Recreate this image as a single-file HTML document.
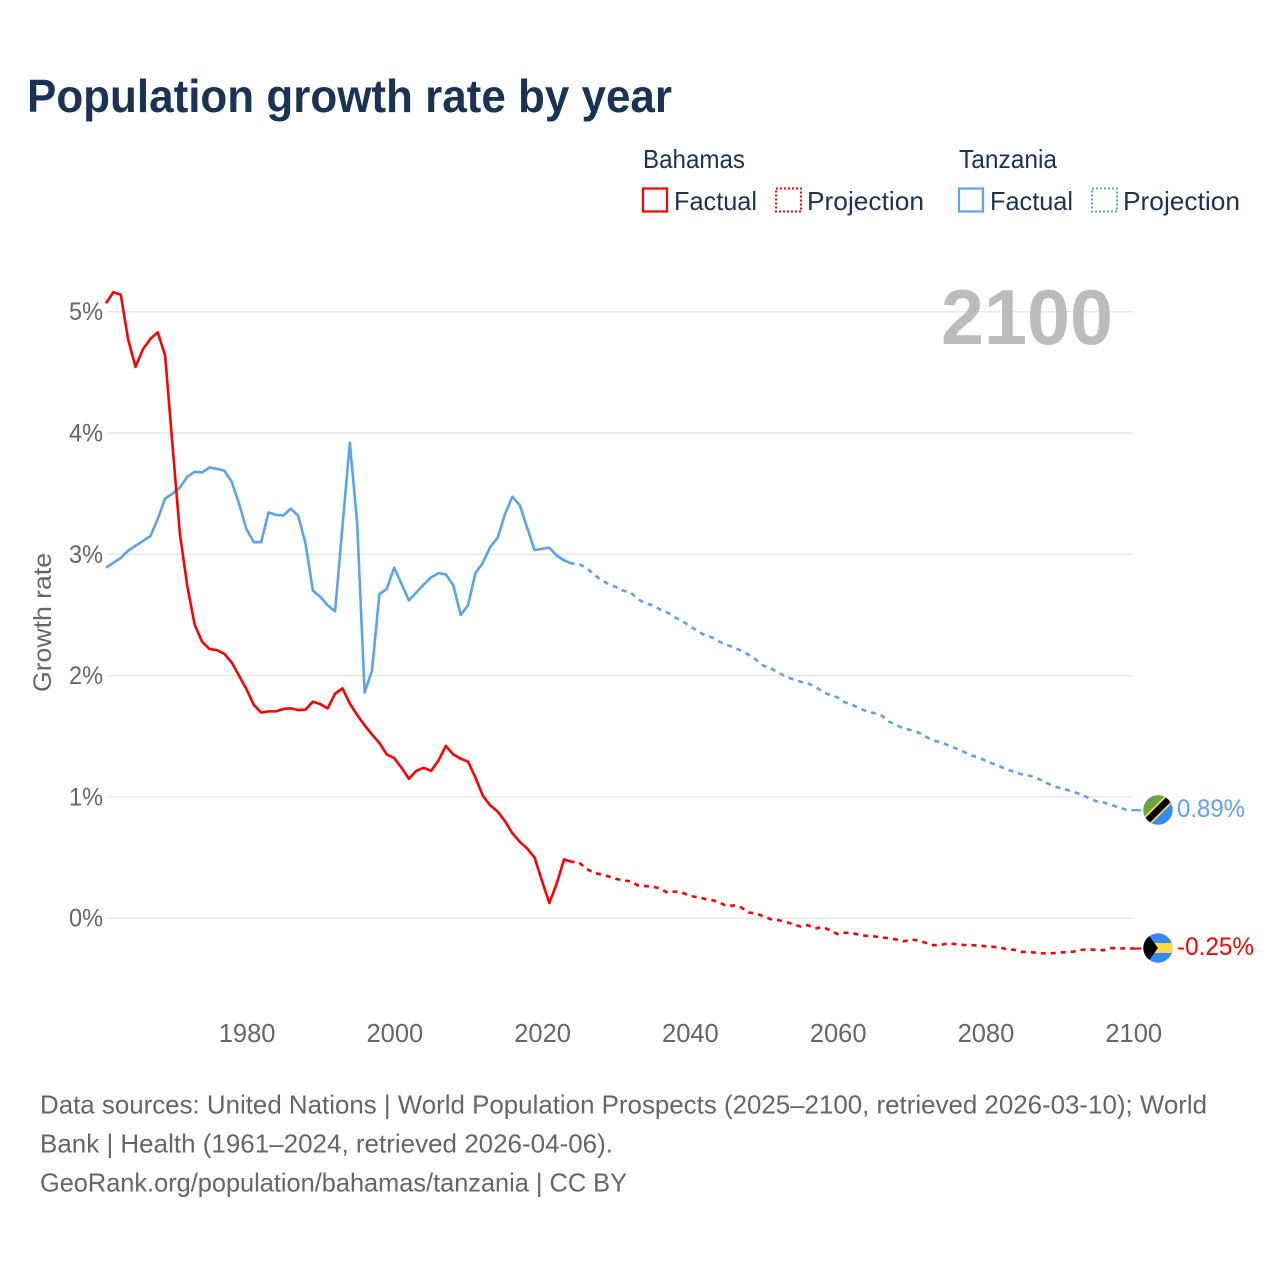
<!DOCTYPE html>
<html lang="en">
<head>
<meta charset="utf-8">
<title>Population growth rate by year</title>
<style>
html,body{margin:0;padding:0;background:#fff;}
svg{display:block;font-family:"Liberation Sans",sans-serif;}
</style>
</head>
<body>
<svg id="chart" width="1280" height="1280" viewBox="0 0 1280 1280" xmlns="http://www.w3.org/2000/svg">
  <defs>
    <clipPath id="clip-tz"><circle cx="1158" cy="810" r="14.7"/></clipPath>
    <clipPath id="clip-bs"><circle cx="1158" cy="948" r="14.7"/></clipPath>
  </defs>
  <rect width="1280" height="1280" fill="#fff"/>
  <text x="27" y="112" font-size="46" font-weight="700" fill="#1a3354" textLength="645" lengthAdjust="spacingAndGlyphs">Population growth rate by year</text>

  <g font-size="26" fill="#1a3354">
    <text x="643" y="168" textLength="102" lengthAdjust="spacingAndGlyphs">Bahamas</text>
    <text x="959" y="168" textLength="98" lengthAdjust="spacingAndGlyphs">Tanzania</text>
    <rect x="643" y="188.5" width="24" height="23" fill="none" stroke="#ff0000" stroke-width="2.2"/>
    <text x="674" y="210" textLength="83" lengthAdjust="spacingAndGlyphs">Factual</text>
    <rect x="776" y="188.5" width="25" height="23" fill="none" stroke="#ff0000" stroke-width="2" stroke-dasharray="2 2"/>
    <text x="807" y="210" textLength="117" lengthAdjust="spacingAndGlyphs">Projection</text>
    <rect x="959" y="188.5" width="24" height="23" fill="none" stroke="#5ba3ec" stroke-width="2.2"/>
    <text x="990" y="210" textLength="83" lengthAdjust="spacingAndGlyphs">Factual</text>
    <rect x="1092" y="188.5" width="25" height="23" fill="none" stroke="#5ba3ec" stroke-width="2" stroke-dasharray="2 2"/>
    <text x="1123" y="210" textLength="117" lengthAdjust="spacingAndGlyphs">Projection</text>
  </g>

  <g id="grid"></g>
  <g id="y-ticks"></g>
  <g id="x-ticks"></g>
  <text transform="translate(51,692) rotate(-90)" font-size="25" fill="#666" textLength="139" lengthAdjust="spacingAndGlyphs">Growth rate</text>
  <text x="941" y="344" font-size="78" font-weight="700" fill="#bcbcbc" textLength="172" lengthAdjust="spacingAndGlyphs">2100</text>
  <g id="series"></g>

  <g clip-path="url(#clip-tz)">
    <rect x="1143" y="795" width="30" height="30" fill="#338af3"/>
    <polygon points="1143,795 1173,795 1143,825" fill="#6da544"/>
    <line x1="1143" y1="825" x2="1173" y2="795" stroke="#ffda44" stroke-width="10"/>
    <line x1="1143" y1="825" x2="1173" y2="795" stroke="#000" stroke-width="6.5"/>
  </g>
  <g clip-path="url(#clip-bs)">
    <rect x="1143" y="933" width="30" height="30" fill="#338af3"/>
    <rect x="1143" y="943" width="30" height="10" fill="#ffda44"/>
    <polygon points="1143,933 1147,933 1158,948 1147,963 1143,963" fill="#000"/>
  </g>
  <text x="1177" y="817" font-size="25" fill="#5ba3ec" textLength="68" lengthAdjust="spacingAndGlyphs">0.89%</text>
  <text x="1177" y="955" font-size="25" fill="#ff0000" textLength="77" lengthAdjust="spacingAndGlyphs">-0.25%</text>

  <g font-size="26" fill="#666">
    <text x="40" y="1113.5" textLength="1167" lengthAdjust="spacingAndGlyphs">Data sources: United Nations | World Population Prospects (2025–2100, retrieved 2026-03-10); World</text>
    <text x="40" y="1152.5" textLength="573" lengthAdjust="spacingAndGlyphs">Bank | Health (1961–2024, retrieved 2026-04-06).</text>
    <text x="40" y="1191.5" textLength="587" lengthAdjust="spacingAndGlyphs">GeoRank.org/population/bahamas/tanzania | CC BY</text>
  </g>
</svg>
<script>
const xTickYears = [1980, 2000, 2020, 2040, 2060, 2080, 2100];
const yTickValues = [0, 1, 2, 3, 4, 5];
const factualStartYear = 1961;
const projectionStartYear = 2024;

const bahamasFactual = [5.07,5.16,5.14,4.77,4.545,4.69,4.775,4.83,4.64,3.9,3.17,2.74,2.42,2.28,2.22,2.21,2.18,2.11,2.0,1.89,
1.76,1.695,1.705,1.705,1.725,1.73,1.715,1.72,1.785,1.765,1.73,1.85,1.895,1.77,1.675,1.59,1.515,1.445,1.35,1.32,
1.24,1.15,1.215,1.24,1.215,1.30,1.42,1.35,1.315,1.29,1.16,1.01,0.93,0.88,0.80,0.70,0.63,0.575,0.50,0.31,
0.126,0.285,0.485,0.465];

const bahamasProjection = [0.465,0.46,0.41,0.375,0.36,0.345,0.325,0.31,0.305,0.27,0.265,0.26,0.245,0.21,0.22,0.21,0.185,
0.173,0.16,0.15,0.13,0.10,0.105,0.088,0.047,0.04,0.014,-0.008,-0.016,-0.03,-0.05,-0.068,-0.058,-0.085,-0.072,-0.10,-0.13,
-0.12,-0.122,-0.138,-0.146,-0.15,-0.16,-0.165,-0.176,-0.19,-0.176,-0.184,-0.204,-0.223,-0.22,-0.206,-0.214,-0.22,-0.222,-0.225,-0.231,
-0.236,-0.242,-0.256,-0.261,-0.278,-0.278,-0.286,-0.29,-0.289,-0.283,-0.28,-0.275,-0.261,-0.258,-0.261,-0.264,-0.247,-0.247,-0.25,-0.25];

const tanzaniaFactual = [2.89,2.93,2.97,3.03,3.07,3.11,3.15,3.29,3.46,3.50,3.55,3.64,3.68,3.675,3.715,3.705,3.69,3.60,3.42,3.21,
3.10,3.10,3.345,3.325,3.32,3.375,3.32,3.09,2.70,2.65,2.58,2.53,3.225,3.92,3.25,1.86,2.04,2.67,2.715,2.89,
2.755,2.62,2.685,2.75,2.81,2.845,2.835,2.745,2.50,2.58,2.845,2.93,3.06,3.135,3.33,3.475,3.405,3.22,3.035,3.045,
3.055,2.99,2.95,2.925];

const tanzaniaProjection = [2.925,2.92,2.89,2.835,2.79,2.755,2.73,2.70,2.685,2.63,2.595,2.58,2.545,2.52,2.48,2.45,2.41,
2.37,2.335,2.315,2.28,2.255,2.23,2.205,2.17,2.13,2.08,2.06,2.025,1.99,1.97,1.95,1.935,1.91,1.865,1.84,1.82,
1.78,1.76,1.73,1.705,1.69,1.67,1.62,1.59,1.565,1.55,1.53,1.495,1.465,1.45,1.425,1.40,1.375,1.345,1.325,1.30,
1.275,1.25,1.225,1.205,1.185,1.175,1.155,1.125,1.095,1.075,1.06,1.04,1.02,0.99,0.965,0.955,0.935,0.915,0.895,0.89];

const SVGNS = 'http://www.w3.org/2000/svg';
const xScale = (year) => 106 + (year - 1961) * (1133 - 106) / 139;
const yScale = (value) => 918.2 - value * 121.3;

function make(tag, parent, attrs) {
  const el = document.createElementNS(SVGNS, tag);
  for (const k in attrs) el.setAttribute(k, attrs[k]);
  parent.appendChild(el);
  return el;
}

function linePath(values, startYear) {
  return values.map((v, i) => (i ? 'L' : 'M') + xScale(startYear + i).toFixed(2) + ' ' + yScale(v).toFixed(2)).join(' ');
}

const grid = document.getElementById('grid');
const yTicks = document.getElementById('y-ticks');
const xTicks = document.getElementById('x-ticks');
const series = document.getElementById('series');

yTickValues.forEach((v) => {
  const line = make('line', grid, {x1: 107, x2: 1133, y1: yScale(v), y2: yScale(v), stroke: '#e9e9e9', 'stroke-width': 1.5});
  
  
  const label = make('text', yTicks, {x: 103, y: yScale(v) + 8.5, 'text-anchor': 'end', 'font-size': 25, fill: '#666', textLength: 34, lengthAdjust: 'spacingAndGlyphs'});
  
  
  label.textContent = v + '%';
});

xTickYears.forEach((year) => {
  const label = make('text', xTicks, {x: xScale(year) + 0.7, y: 1042, 'text-anchor': 'middle', 'font-size': 25.5, fill: '#666'});
  
  
  label.textContent = year;
});

function drawSeries(name, color, factual, projection) {
  const solid = make('path', series, {d: linePath(factual, factualStartYear), fill: 'none', stroke: color, 'stroke-width': 2.6, 'stroke-linejoin': 'round'});
  
  
  const dashed = make('path', series, {d: linePath(projection, projectionStartYear), fill: 'none', stroke: color, 'stroke-width': 2.6, 'stroke-dasharray': '5 5', 'stroke-dashoffset': 2});
  
  
  const lastValue = projection[projection.length - 1];
  const lastX = xScale(projectionStartYear + projection.length - 1);
  const leader = make('line', series, {x1: lastX, x2: lastX + 8, y1: yScale(lastValue), y2: yScale(lastValue), stroke: color, 'stroke-width': 2.2});
  
  
}

drawSeries('tanzania', '#5ba3ec', tanzaniaFactual, tanzaniaProjection);
drawSeries('bahamas', '#ff0000', bahamasFactual, bahamasProjection);
</script>
</body>
</html>
